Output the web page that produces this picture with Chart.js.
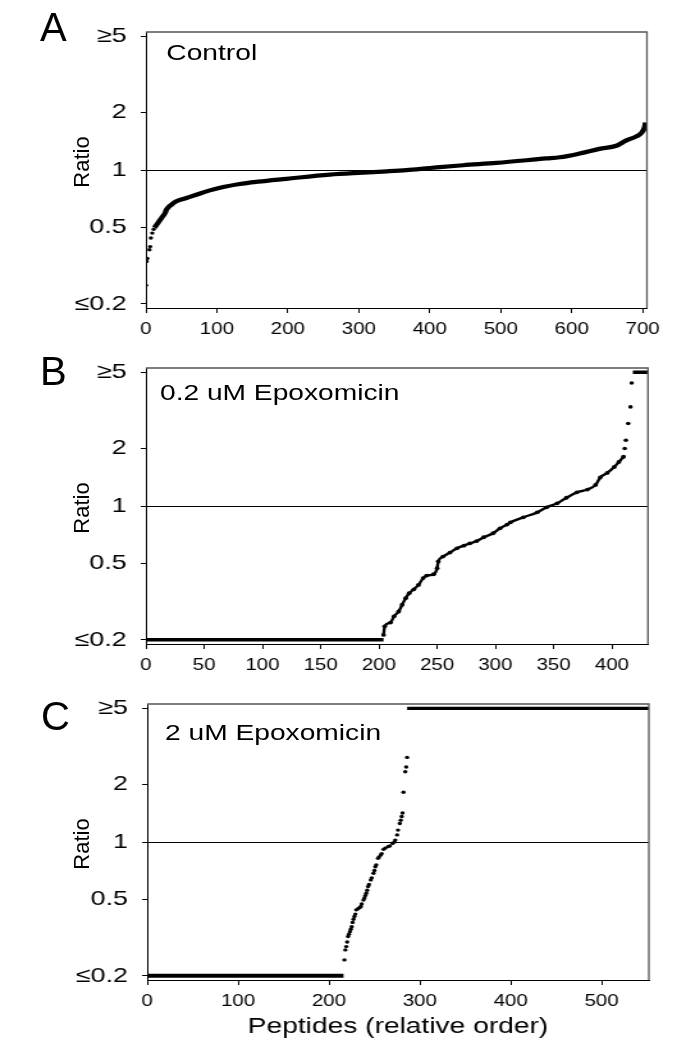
<!DOCTYPE html>
<html>
<head>
<meta charset="utf-8">
<script src="https://cdn.jsdelivr.net/npm/chart.js@4.4.1/dist/chart.umd.min.js"></script>
<style>
  body { margin: 0; background: #fff; font-family: 'Liberation Sans', Arial, sans-serif; }
  #page { position: relative; width: 677px; height: 1049px; overflow: hidden; }
  #stretch { position: absolute; left: 0; top: 0; width: 529px; height: 1049px; transform: scaleX(1.2798); transform-origin: 0 0; }
  #stretch canvas { position: absolute; left: 0; }
  .note { position: absolute; font-size: 22px; line-height: 1; white-space: nowrap; color: #000; }
  .letter { position: absolute; font-size: 40px; line-height: 1; color: #000; }
  .ratio { position: absolute; font-size: 22px; line-height: 1; color: #000; transform: translate(-50%, -50%) rotate(-90deg); }
</style>
</head>
<body>
<div id="page">
  <div id="stretch">
    <canvas id="chartA" width="529" height="345" style="top:0"></canvas>
    <canvas id="chartB" width="529" height="340" style="top:340px"></canvas>
    <canvas id="chartC" width="529" height="373" style="top:676px"></canvas>
    <div class="note" style="left:130px; top:42px">Control</div>
    <div class="note" style="left:125px; top:382px">0.2 uM Epoxomicin</div>
    <div class="note" style="left:129px; top:722px">2 uM Epoxomicin</div>
  </div>
  <div class="letter" style="left:40px; top:7px">A</div>
  <div class="letter" style="left:40px; top:351px">B</div>
  <div class="letter" style="left:41px; top:696px">C</div>
  <div class="ratio" style="left:82px; top:162px">Ratio</div>
  <div class="ratio" style="left:82px; top:508px">Ratio</div>
  <div class="ratio" style="left:82px; top:844px">Ratio</div>
</div>
<script>
// y axis (log, clamped at 0.2 and 5)
const yTicks = [0.2, 0.5, 1, 2, 5];
const aTicks = [0, 100, 200, 300, 400, 500, 600, 700];
const bTicks = [0, 50, 100, 150, 200, 250, 300, 350, 400];
const cTicks = [0, 100, 200, 300, 400, 500];

// A: Control
const aDotX = [0, 1, 2, 5, 6, 7, 9, 11];
const aDotY = [0.25, 0.333, 0.345, 0.383, 0.398, 0.441, 0.468, 0.49];
const aCurveX = [12, 17, 22, 27, 29, 36, 43, 57, 71, 90, 109, 132, 158, 198, 259, 306, 340, 367, 400, 447, 494, 564, 583, 611, 639, 663, 677, 691, 698, 703, 704];
const aCurveY = [0.50, 0.529, 0.562, 0.596, 0.621, 0.659, 0.686, 0.714, 0.743, 0.783, 0.815, 0.846, 0.87, 0.90, 0.946, 0.969, 0.985, 1.0, 1.025, 1.06, 1.09, 1.15, 1.166, 1.22, 1.29, 1.34, 1.43, 1.50, 1.56, 1.69, 1.77];

// B: 0.2 uM Epoxomicin
const bLowX = [0, 204];
const bLowY = [0.2, 0.2];
const bRiseX = [204, 205, 210, 213, 217, 220, 223, 226, 230, 234, 238, 241, 247, 250, 251, 255, 261, 267, 273, 278, 284, 290, 298, 304, 310, 313, 324, 336, 344, 353, 361, 370, 379, 386, 390, 396, 402, 406, 410];
const bRiseY = [0.212, 0.235, 0.246, 0.265, 0.281, 0.305, 0.33, 0.35, 0.367, 0.387, 0.42, 0.433, 0.44, 0.473, 0.513, 0.544, 0.571, 0.601, 0.621, 0.638, 0.656, 0.687, 0.721, 0.765, 0.80, 0.822, 0.873, 0.927, 0.985, 1.033, 1.105, 1.18, 1.22, 1.29, 1.41, 1.49, 1.60, 1.70, 1.81];
const bTopX = [411, 412, 414, 416, 417];
const bTopY = [2.0, 2.21, 2.7, 3.3, 4.4];
const bHighX = [418, 431];
const bHighY = [5, 5];

// C: 2 uM Epoxomicin
const cLowX = [0, 216];
const cLowY = [0.2, 0.2];
const cRiseX = [217, 218, 219, 220, 221, 222, 223, 224, 225, 226, 227, 228, 229, 230, 232, 234, 235, 236, 238, 239, 240, 241, 242, 243, 244, 246, 247, 249, 250, 251, 252, 254, 255, 257, 258, 260, 262, 265, 267, 270, 272, 273, 275, 276, 278, 279, 280, 281];
const cRiseY = [0.242, 0.273, 0.284, 0.30, 0.321, 0.33, 0.34, 0.35, 0.361, 0.38, 0.395, 0.408, 0.42, 0.442, 0.448, 0.455, 0.46, 0.475, 0.498, 0.51, 0.525, 0.54, 0.56, 0.585, 0.60, 0.634, 0.65, 0.687, 0.71, 0.743, 0.76, 0.822, 0.835, 0.855, 0.87, 0.916, 0.93, 0.946, 0.955, 0.984, 1.0, 1.024, 1.09, 1.155, 1.25, 1.30, 1.36, 1.42];
const cTopX = [282, 284, 285, 286];
const cTopY = [1.82, 2.33, 2.47, 2.77];
const cHighX = [286, 552];
const cHighY = [5, 5];

Chart.defaults.font.family = "'Liberation Sans', Arial, sans-serif";
Chart.defaults.color = '#000';

function pts(xs, ys) {
    return xs.map((x, i) => ({ x: x, y: ys[i] }));
}

function dots(xs, ys, r) {
    return { data: pts(xs, ys), showLine: false, pointRadius: r, pointHoverRadius: r,
             pointBackgroundColor: '#000', pointBorderWidth: 0 };
}

function line(xs, ys, w, r) {
    return { data: pts(xs, ys), showLine: true, borderColor: '#000', borderWidth: w,
             cubicInterpolationMode: 'monotone', pointRadius: r, pointHoverRadius: r,
             pointBackgroundColor: '#000', pointBorderWidth: 0 };
}

function yLabel(v) {
    if (v === 5) return '≥5';
    if (v === 0.2) return '≤0.2';
    return String(v);
}

// top and right edges of the plot frame
const frame = {
    id: 'frame',
    afterDraw(chart) {
        const { ctx, chartArea: a } = chart;
        ctx.save();
        ctx.strokeStyle = '#555';
        ctx.lineWidth = 1.3;
        ctx.beginPath();
        ctx.moveTo(a.left, a.top);
        ctx.lineTo(a.right, a.top);
        ctx.lineTo(a.right, a.bottom);
        ctx.stroke();
        ctx.restore();
    }
};

function panel(id, datasets, xMax, xTicks, padTop, padRight, axisH, yW, xTitle) {
    new Chart(document.getElementById(id), {
        type: 'scatter',
        data: { datasets: datasets },
        options: {
            responsive: false,
            animation: false,
            layout: { padding: { left: 0, right: padRight, top: padTop, bottom: 0 } },
            plugins: { legend: { display: false }, tooltip: { enabled: false } },
            scales: {
                x: {
                    type: 'linear', min: 0, max: xMax,
                    afterFit: s => { s.height = axisH; },
                    afterBuildTicks: s => { s.ticks = xTicks.map(v => ({ value: v })); },
                    ticks: { font: { size: 16 }, padding: 7, maxRotation: 0, autoSkip: false },
                    grid: { drawOnChartArea: false, tickLength: 5, tickColor: '#000' },
                    border: { color: '#000' },
                    title: xTitle
                        ? { display: true, text: xTitle, font: { size: 22 }, padding: { top: 0, bottom: 9 } }
                        : { display: false }
                },
                y: {
                    type: 'logarithmic', min: 0.19, max: 5.27,
                    afterFit: s => { s.width = yW; },
                    afterBuildTicks: s => { s.ticks = yTicks.map(v => ({ value: v })); },
                    ticks: { callback: yLabel, font: { size: 21 }, padding: 11 },
                    grid: {
                        color: c => (c.tick && c.tick.value === 1) ? '#000' : 'rgba(0,0,0,0)',
                        tickColor: '#000', tickLength: 4
                    },
                    border: { color: '#000' }
                }
            }
        },
        plugins: [frame]
    });
}

panel('chartA', [
    dots(aDotX, aDotY, 1.7),
    line(aCurveX, aCurveY, 4.2, 0)
], 706, aTicks, 32, 23.5, 37, 114, null);

panel('chartB', [
    line(bLowX, bLowY, 3.5, 0),
    line(bRiseX, bRiseY, 2.4, 1.9),
    dots(bTopX, bTopY, 1.8),
    line(bHighX, bHighY, 3.5, 0)
], 431, bTicks, 28, 22.7, 36, 114, null);

panel('chartC', [
    line(cLowX, cLowY, 3.8, 0),
    dots(cRiseX, cRiseY, 1.7),
    dots(cTopX, cTopY, 1.7),
    line(cHighX, cHighY, 3.2, 0)
], 552, cTicks, 28, 22, 69, 115, 'Peptides (relative order)');
</script>
</body>
</html>
